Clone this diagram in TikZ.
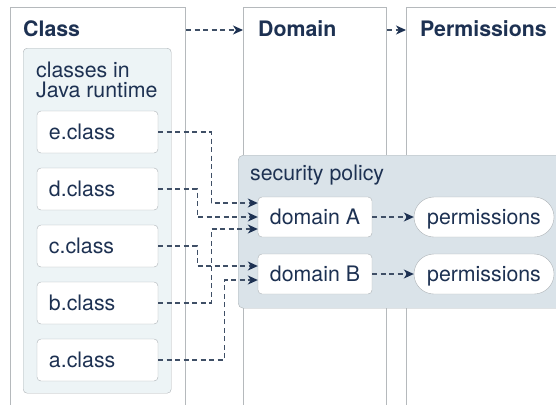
\documentclass[tikz,border=0pt]{standalone}
\usepackage{fontspec}
\setmainfont{TeX Gyre Heros}
\usetikzlibrary{arrows.meta}

\definecolor{ink}{HTML}{1D3152}
\definecolor{lanegray}{HTML}{B5B9BC}
\definecolor{boxgray}{HTML}{ADB3B7}
\definecolor{paleblue}{HTML}{EDF4F6}
\definecolor{policyblue}{HTML}{DAE3E9}
\definecolor{wire}{HTML}{3F4F66}

\begin{document}
\begin{tikzpicture}[x=1bp, y=-1bp, node distance=57bp,
  font=\fontsize{21.4}{20}\selectfont, text=ink,
  lane/.style={draw=lanegray, line width=1bp, minimum width=#1, minimum height=430bp, anchor=north west, inner sep=0pt},
  title/.style={font=\fontsize{21.4}{20}\selectfont\bfseries, anchor=base west, inner sep=0pt},
  classbox/.style={draw=boxgray, fill=white, rounded corners=4bp, minimum width=121bp, minimum height=42bp, text width=97bp, align=left, inner xsep=12bp, text height=15bp, text depth=0bp},
  domainbox/.style={draw=boxgray, fill=white, rounded corners=4bp, minimum width=114bp, minimum height=40bp, text height=15bp, text depth=0bp},
  permbox/.style={draw=boxgray, fill=white, rounded corners=20bp, minimum width=140bp, minimum height=40bp, text height=15bp, text depth=0bp},
  link/.style={draw=wire, line width=1.1bp, dash pattern=on 5bp off 3.5bp, -{Stealth[length=10bp, width=9bp, inset=3bp, color=ink]}}]
\useasboundingbox (0,0) rectangle (556,404);
\clip (0,0) rectangle (556,404);
\node [lane=175bp] (classlane) at (10,7) {};
\node [lane=143bp] (domainlane) at (243,7) {};
\node [lane=170bp] (permlane) at (406,7) {};
\node [title] (classtitle) at (23,36) {Class};
\node [title] (domaintitle) at (258,36) {Domain};
\node [title] (permtitle) at (420,36) {Permissions};
\draw [link] ([yshift=-23bp]classlane.north east) -- ([yshift=-23bp]domainlane.north west);
\draw [link] ([yshift=-23bp]domainlane.north east) -- ([yshift=-23bp]permlane.north west);
\node [draw=boxgray, fill=paleblue, rounded corners=4bp, minimum width=148bp, minimum height=345bp, anchor=north west] (runtime) at (23,48) {};
\node [anchor=north west, align=left, inner sep=0pt] (runtimelabel) at (36,62) {classes in\\Java runtime};
\node [classbox] (e) at (97.5,132) {e.class};
\node [classbox, below of=e] (d) {d.class};
\node [classbox, below of=d] (c) {c.class};
\node [classbox, below of=c] (b) {b.class};
\node [classbox, below of=b] (a) {a.class};
\node [draw=boxgray, fill=policyblue, rounded corners=5bp, minimum width=330bp, minimum height=153bp, anchor=north west] (policy) at (238,155) {};
\node [anchor=base west, inner sep=0pt] (policylabel) at (250,180) {security policy};
\node [domainbox] (domaina) at (315,217) {domain A};
\node [domainbox] (domainb) at (315,274) {domain B};
\node [permbox] (perma) at (484,217) {permissions};
\node [permbox] (permb) at (484,274) {permissions};
\draw [link] (domaina) -- (perma);
\draw [link] (domainb) -- (permb);
\draw [link] (e.east) -- ++(53,0) |- ([yshift=14bp]domaina.west);
\draw [link] (d.east) -- ++(39,0) |- (domaina.west);
\draw [link] (b.east) -- ++(53,0) |- ([yshift=-12bp]domaina.west);
\draw [link] (c.east) -- ++(39,0) |- ([yshift=8bp]domainb.west);
\draw [link] (a.east) -- ++(66,0) |- ([yshift=-6bp]domainb.west);
\end{tikzpicture}
\end{document}
